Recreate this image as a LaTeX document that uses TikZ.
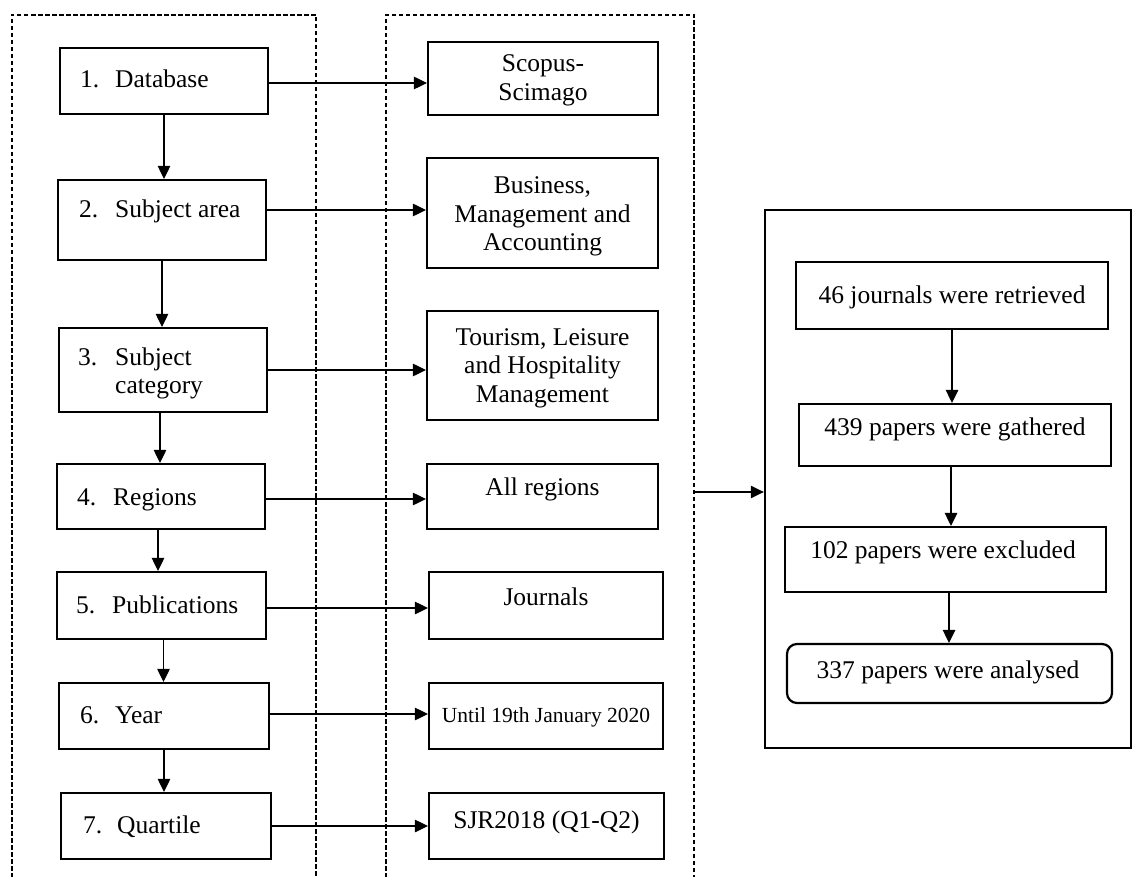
\documentclass[tikz,border=0pt]{standalone}
\usepackage{fontspec}
\setmainfont{Liberation Serif}
\usetikzlibrary{arrows.meta}

\begin{document}
\begin{tikzpicture}[x=1pt,y=-1pt,
  box/.style={draw, line width=2.2pt, inner sep=0pt},
  frame/.style={draw, line width=2pt, dash pattern=on 4.5pt off 2.5pt, inner sep=0pt},
  txt/.style={font=\fontsize{25.5}{28.5}\selectfont, inner sep=0pt, anchor=base},
  item/.style={txt, anchor=base west},
  flow/.style={line width=1.2pt, -{Triangle[length=13pt,width=12.5pt]}},
]
\useasboundingbox (0,0) rectangle (1132,877);
\clip (0,0) rectangle (1132,877);

% dashed panels (they run past the bottom edge)
\node[frame, minimum width=304.5pt, minimum height=885pt] (left) at (163.75,457.5) {};
\node[frame, minimum width=308pt, minimum height=885pt] (mid) at (540,457.5) {};

% solid panel with the results
\node[box, line width=2.4pt, minimum width=366pt, minimum height=538pt] (res) at (948,479) {};

% selection criteria
\node[box, minimum width=208pt, minimum height=66pt] (d1) at (164,81) {};
\node[box, minimum width=208pt, minimum height=80pt] (d2) at (162,220) {};
\node[box, minimum width=208pt, minimum height=84pt] (d3) at (163,370) {};
\node[box, minimum width=208pt, minimum height=65pt] (d4) at (161,496.5) {};
\node[box, minimum width=209pt, minimum height=67pt] (d5) at (161.5,605.5) {};
\node[box, minimum width=210pt, minimum height=66pt] (d6) at (164,716) {};
\node[box, minimum width=210pt, minimum height=66pt] (d7) at (166,826) {};

\node[item] (d1t) at (80,88)  {\makebox[35pt][l]{1.}Database};
\node[item] (d2t) at (79,218) {\makebox[36pt][l]{2.}Subject area};
\node[item] (d3t) at (78,365) {\begin{tabular}[t]{@{}p{37pt}@{}l@{}}3. & Subject\\ & category\end{tabular}};
\node[item] (d4t) at (77,505) {\makebox[36pt][l]{4.}Regions};
\node[item] (d5t) at (76,613) {\makebox[36pt][l]{5.}Publications};
\node[item] (d6t) at (80,723) {\makebox[35pt][l]{6.}Year};
\node[item] (d7t) at (83,833) {\makebox[34pt][l]{7.}Quartile};

% chosen values
\node[box, minimum width=230pt, minimum height=73pt]  (m1) at (543,78.5) {};
\node[box, minimum width=231pt, minimum height=110pt] (m2) at (542.5,213) {};
\node[box, minimum width=231pt, minimum height=109pt] (m3) at (542.5,365.5) {};
\node[box, minimum width=231pt, minimum height=65pt]  (m4) at (542.5,496.5) {};
\node[box, minimum width=234pt, minimum height=67pt]  (m5) at (546,605.5) {};
\node[box, minimum width=234pt, minimum height=66pt]  (m6) at (546,716) {};
\node[box, minimum width=235pt, minimum height=66pt]  (m7) at (546.5,826) {};

\node[txt] (m1t) at (543,72)    {\begin{tabular}[t]{@{}c@{}}Scopus-\\Scimago\end{tabular}};
\node[txt] (m2t) at (542.5,194) {\begin{tabular}[t]{@{}c@{}}Business,\\Management and\\Accounting\end{tabular}};
\node[txt] (m3t) at (542.5,345) {\begin{tabular}[t]{@{}c@{}}Tourism, Leisure\\and Hospitality\\Management\end{tabular}};
\node[txt] (m4t) at (542.5,495) {All regions};
\node[txt] (m5t) at (546,605)   {Journals};
\node[txt, font=\fontsize{21.5}{24}\selectfont] (m6t) at (546,722) {Until 19th January 2020};
\node[txt] (m7t) at (546.5,828) {SJR2018 (Q1-Q2)};

% outcome of the search
\node[box, minimum width=312pt, minimum height=67pt] (r1) at (952,295.5) {};
\node[box, minimum width=312pt, minimum height=62pt] (r2) at (955,435) {};
\node[box, minimum width=321pt, minimum height=65pt] (r3) at (945.5,559.5) {};
\node[box, rounded corners=10pt, minimum width=325pt, minimum height=59pt] (r4) at (949.5,673.5) {};

\node[txt] (r1t) at (952,303) {46 journals were retrieved};
\node[txt] (r2t) at (955,435) {439 papers were gathered};
\node[txt] (r3t) at (943,558) {102 papers were excluded};
\node[txt] (r4t) at (948,678) {337 papers were analysed};

% step-to-step arrows
\draw[flow] (d1.south) -- (d1.south |- d2.north);
\draw[flow] (d2.south) -- (d2.south |- d3.north);
\draw[flow] ([xshift=-3pt]d3.south) -- ([xshift=-3pt]d3.south |- d4.north);
\draw[flow] ([xshift=-3pt]d4.south) -- ([xshift=-3pt]d4.south |- d5.north);
\draw[flow] ([xshift=2pt]d5.south) -- ([xshift=2pt]d5.south |- d6.north);
\draw[flow] (d6.south) -- (d6.south |- d7.north);

% criterion-to-value arrows
\draw[flow] ([yshift=-2pt]d1.east) -- ([yshift=-2pt]d1.east -| m1.west);
\draw[flow] ([yshift=10pt]d2.east) -- ([yshift=10pt]d2.east -| m2.west);
\draw[flow] (d3.east) -- (d3.east -| m3.west);
\draw[flow] ([yshift=-2.5pt]d4.east) -- ([yshift=-2.5pt]d4.east -| m4.west);
\draw[flow] ([yshift=-2.5pt]d5.east) -- ([yshift=-2.5pt]d5.east -| m5.west);
\draw[flow] ([yshift=2pt]d6.east) -- ([yshift=2pt]d6.east -| m6.west);
\draw[flow] (d7.east) -- (d7.east -| m7.west);

% from the criteria panel to the results panel
\draw[flow] ([yshift=-13pt]res.west -| mid.east) -- ([yshift=-13pt]res.west);

% results chain
\draw[flow] (r1.south) -- (r1.south |- r2.north);
\draw[flow] ([xshift=-4pt]r2.south) -- ([xshift=-4pt]r2.south |- r3.north);
\draw[flow] ([xshift=3.5pt]r3.south) -- ([xshift=3.5pt]r3.south |- r4.north);
\end{tikzpicture}
\end{document}
